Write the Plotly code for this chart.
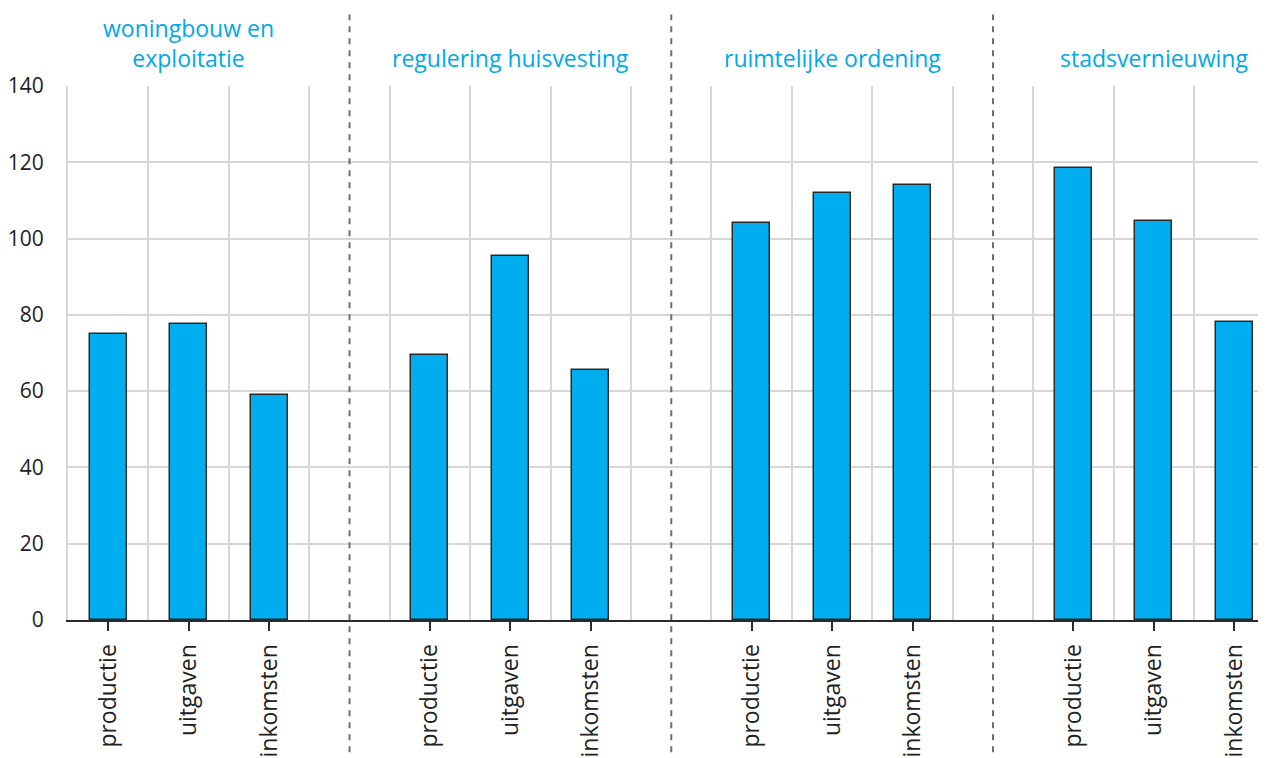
import plotly.graph_objects as go

groups = ["woningbouw en<br>exploitatie", "regulering huisvesting", "ruimtelijke ordening", "stadsvernieuwing"]
measures = ["productie", "uitgaven", "inkomsten"]
values = [
    [75, 77.5, 59],
    [69.5, 95.5, 65.5],
    [104, 112, 114],
    [118.5, 104.5, 78],
]
y_ticks = [0, 20, 40, 60, 80, 100, 120, 140]
y_labels = ["0", "20", "40", "60", "80", "100", "120", "140"]

# positions: each group occupies 3 slots, followed by an empty separator slot
xs, ys, labels = [], [], []
for gi, gvals in enumerate(values):
    for mi, v in enumerate(gvals):
        xs.append(gi * 4 + mi)
        ys.append(v)
        labels.append(measures[mi])
sep_positions = [gi * 4 + 3 for gi in range(len(groups) - 1)]
title_positions = [gi * 4 + 1 for gi in range(len(groups))]

FONT = "Open Sans"
fig = go.Figure()
fig.add_trace(go.Bar(
    x=xs, y=ys, width=0.46,
    marker=dict(color="#00AEEF", line=dict(color="#2a2a2a", width=1.5)),
    hoverinfo="x+y",
))

for xp in sep_positions:
    fig.add_shape(type="line", xref="x", yref="paper", x0=xp, x1=xp, y0=-0.27, y1=1.134,
                  line=dict(color="#6e6e6e", width=2, dash="6px,6px"), layer="above")

for xp, g in zip(title_positions, groups):
    fig.add_annotation(x=xp, xref="x", y=1, yref="paper", yanchor="bottom", yshift=10,
                       text=g, showarrow=False, font=dict(family=FONT, size=23, color="#00A9E6"),
                       align="center")

fig.update_layout(
    width=1258, height=750,
    margin=dict(l=59, r=0, t=78, b=136),
    plot_bgcolor="white", paper_bgcolor="white",
    showlegend=False, bargap=0,
    xaxis=dict(
        range=[-0.5, 14.394],
        tickmode="array", tickvals=xs, ticktext=labels,
        tickangle=-90, ticks="outside", ticklen=9, tickwidth=2, tickcolor="#2a2a2a",
        tickfont=dict(family=FONT, size=23, color="#222222"),
        showgrid=False, showline=True, linecolor="#2a2a2a", linewidth=2,
        zeroline=False, ticklabelstandoff=4,
        minor=dict(tickmode="linear", tick0=-0.5, dtick=1, showgrid=True,
                   gridcolor="#d6d6d6", gridwidth=2, ticks=""),
    ),
    yaxis=dict(
        range=[0, 140], tickmode="array", tickvals=y_ticks, ticktext=y_labels,
        showgrid=True, gridcolor="#d6d6d6", gridwidth=2,
        zeroline=False, showline=True, linecolor="#d6d6d6", linewidth=2,
        tickfont=dict(family=FONT, size=21, color="#222222"),
        ticklabelstandoff=18,
    ),
)

fig.write_html("out.html")
